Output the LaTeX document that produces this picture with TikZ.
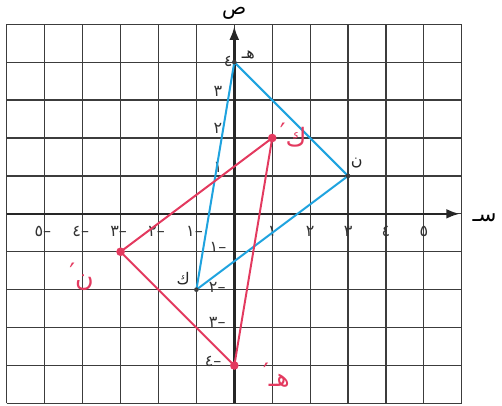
\documentclass[tikz,border=0pt]{standalone}
\usepackage{fontspec}
\newfontfamily\arabicfont[Script=Arabic]{DejaVu Sans}
\newfontfamily\latinfont{DejaVu Sans}
\TeXXeTstate=1
\usetikzlibrary{arrows.meta}
\definecolor{gridgray}{HTML}{3C3C3C}
\definecolor{origblue}{HTML}{1FA3DF}
\definecolor{imagered}{HTML}{E33A5F}
\newcommand{\primemark}{{\latinfont\raisebox{.35ex}{′}}}
\tikzset{
  font=\arabicfont\fontsize{12}{14}\selectfont,
  gridline/.style={draw=gridgray, line width=.9pt},
  axis/.style={-{Latex[length=3.6mm,width=2.6mm]}, line width=1.8pt, draw=black!85},
  ticklabel/.style={inner sep=0pt, text=black!80},
  blueside/.style={draw=origblue, line width=1.5pt, line join=round},
  redside/.style={draw=imagered, line width=1.5pt, line join=round},
  bluedot/.style={circle, fill=gridgray, inner sep=0pt, minimum size=3.5pt},
  reddot/.style={circle, fill=imagered, inner sep=0pt, minimum size=6.5pt},
  vertexlabel/.style={inner sep=0pt, text=black!85},
  handlabel/.style={inner sep=0pt, text=imagered,
    font=\arabicfont\fontsize{19}{21}\selectfont}
}

\begin{document}
\begin{tikzpicture}
  \useasboundingbox (-6.18,-5.05) rectangle (7.06,5.64);
  \draw[gridline] (-6,-5) grid (6,5);

  % axes
  \coordinate (xstart) at (-6,0);
  \coordinate (xend) at (5.95,0);
  \coordinate (ystart) at (0,-5);
  \coordinate (yend) at (0,4.95);
  \draw[axis] (xstart) -- (xend);
  \draw[axis] (ystart) -- (yend);
  \node[font=\arabicfont\fontsize{16}{18}\selectfont] (xlabel) at (6.6,-0.1) {\beginR سـ\endR};
  \node[font=\arabicfont\fontsize{15}{17}\selectfont, anchor=south] (ylabel) at (0,5.0) {\beginR ص\endR};

  \foreach \n/\d in {1/١,2/٢,3/٣,4/٤,5/٥} {
    \node[ticklabel] (xpos\n) at (\n,-0.46) {\d};
    \node[ticklabel] (xneg\n) at (-\n-0.05,-0.46) {–\d};
  }
  \node[ticklabel] (ypos1) at (-0.43,1.23) {١};
  \node[ticklabel] (ypos2) at (-0.43,2.25) {٢};
  \node[ticklabel] (ypos3) at (-0.43,3.23) {٣};
  \node[ticklabel] (ypos4) at (-0.16,4.02) {٤};
  \node[ticklabel] (yneg1) at (-0.43,-0.88) {–١};
  \node[ticklabel] (yneg2) at (-0.45,-1.94) {–٢};
  \node[ticklabel] (yneg3) at (-0.45,-2.86) {–٣};
  \node[ticklabel] (yneg4) at (-0.56,-3.9) {–٤};

  % original triangle
  \coordinate (he) at (0,4);
  \coordinate (nun) at (3,1);
  \coordinate (kaf) at (-1,-2);
  \draw[blueside] (he) -- (nun) -- (kaf) -- cycle;

  % image triangle
  \coordinate (hep) at (0,-4);
  \coordinate (nunp) at (-3,-1);
  \coordinate (kafp) at (1,2);
  \draw[redside] (kafp) -- (nunp) -- (hep) -- cycle;

  \foreach \v in {he,nun,kaf} \node[bluedot] at (\v) {};
  \foreach \v in {hep,nunp,kafp} \node[reddot] at (\v) {};

  \node[vertexlabel] (helabel) at (0.37,4.2) {\beginR هـ\endR};
  \node[vertexlabel] (nunlabel) at (3.23,1.33) {\beginR ن\endR};
  \node[vertexlabel] (kaflabel) at (-1.35,-1.7) {\beginR ك\endR};

  \node[handlabel] (kafplabel) at (1.55,2.07) {\primemark\beginR ك\endR};
  \node[handlabel] (nunplabel) at (-4.03,-1.67) {\primemark\beginR ن\endR};
  \node[handlabel] (heplabel) at (1.11,-4.25) {\primemark\beginR هـ\endR};
\end{tikzpicture}
\end{document}
